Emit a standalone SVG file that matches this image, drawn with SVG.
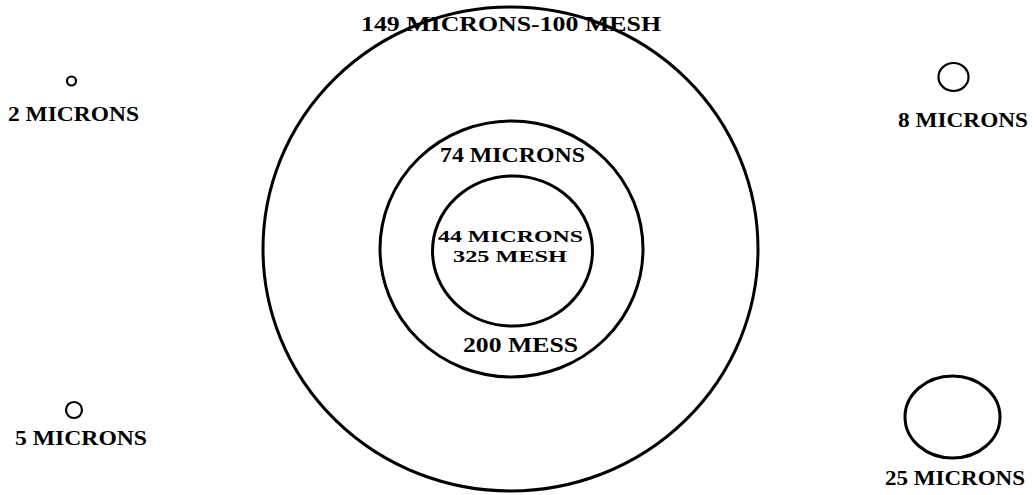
<svg xmlns="http://www.w3.org/2000/svg" width="1036" height="495" viewBox="0 0 1036 495">
<style>
.c{fill:none;stroke:#000;stroke-width:3}
.s{fill:none;stroke:#000;stroke-width:2.2}
text{font-family:"Liberation Serif","DejaVu Serif",serif;font-weight:bold;font-size:20px;fill:#000}
.sm{font-size:17px}
</style>
<rect width="1036" height="495" fill="#fff"/>
<g id="outer"><ellipse class="c" cx="510.5" cy="249" rx="247.5" ry="242"/><text x="361" y="31" textLength="300" lengthAdjust="spacingAndGlyphs">149 MICRONS-100 MESH</text></g>
<g id="middle"><ellipse class="c" cx="511.5" cy="249" rx="131.5" ry="128"/><text x="440" y="162" textLength="145" lengthAdjust="spacingAndGlyphs">74 MICRONS</text><text x="463" y="352" textLength="115" lengthAdjust="spacingAndGlyphs">200 MESS</text></g>
<g id="inner"><ellipse class="c" cx="512.5" cy="251" rx="80" ry="75"/><text class="sm" x="438" y="242" textLength="145" lengthAdjust="spacingAndGlyphs">44 MICRONS</text><text class="sm" x="453" y="262" textLength="114" lengthAdjust="spacingAndGlyphs">325 MESH</text></g>
<g id="p2"><circle class="s" cx="71.5" cy="81" r="4.5"/><text x="8" y="121" textLength="131" lengthAdjust="spacingAndGlyphs">2 MICRONS</text></g>
<g id="p8"><ellipse class="s" cx="953.5" cy="77" rx="15" ry="14"/><text x="898" y="127" textLength="130" lengthAdjust="spacingAndGlyphs">8 MICRONS</text></g>
<g id="p5"><circle class="s" cx="74" cy="410" r="8"/><text x="15" y="445" textLength="132" lengthAdjust="spacingAndGlyphs">5 MICRONS</text></g>
<g id="p25"><ellipse class="c" cx="952.5" cy="417" rx="47.5" ry="41"/><text x="885" y="485" textLength="140" lengthAdjust="spacingAndGlyphs">25 MICRONS</text></g>
<g id="connectors"/>
</svg>
